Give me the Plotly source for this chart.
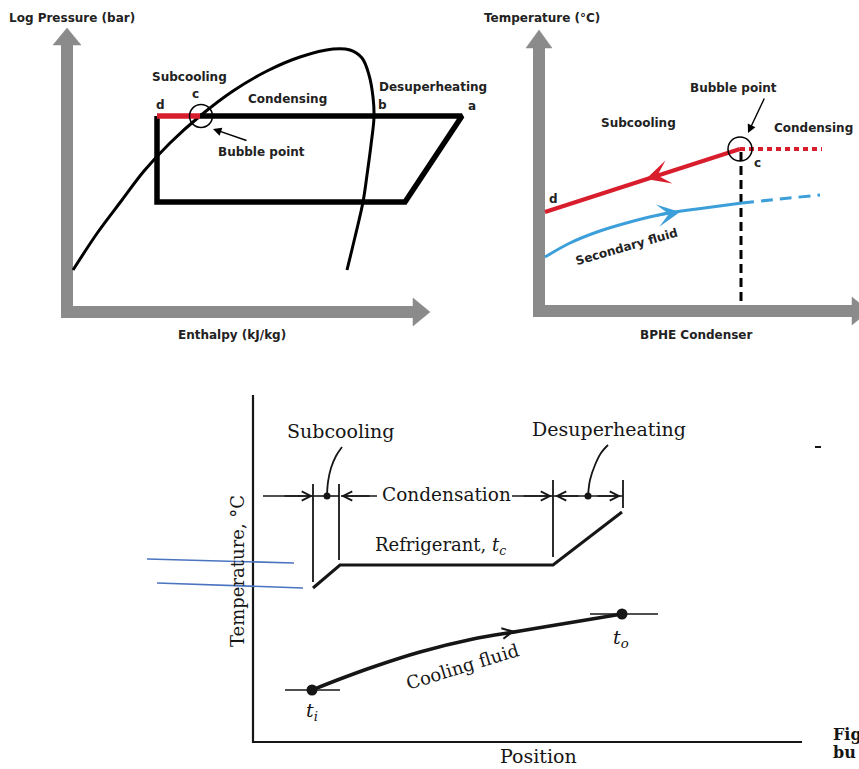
import plotly.graph_objects as go

W, H = 859, 769
GRAY = "#8b8b8b"
RED = "#d81e2c"
BLUE = "#3d9fd9"
INK = "#222222"
SCAN = "#161616"
PEN = "#4a74c0"
SANS = "DejaVu Sans"
SERIF = "DejaVu Serif"

# ---------------- Panel 1: log P - h diagram ----------------
ph_vshaft_x = [67, 67]
ph_vshaft_y = [318, 45]
ph_vhead_x = [53, 81, 67, 53]
ph_vhead_y = [45, 45, 28, 45]
ph_hshaft_x = [61, 413]
ph_hshaft_y = [312, 312]
ph_hhead_x = [413, 413, 430, 413]
ph_hhead_y = [298, 326, 312, 298]

dome_x = [73, 98, 122, 144, 170, 200, 233, 267, 300, 333, 350, 362, 369, 373, 374, 371, 367, 363, 355, 347]
dome_y = [270, 232, 200, 171, 143, 116, 91, 71, 57, 49, 50, 58, 75, 97, 117, 145, 175, 202, 237, 270]

cycle_x = [200, 462, 405, 157, 157]
cycle_y = [116, 116, 202, 202, 116]
subcool_x = [157, 200]
subcool_y = [116, 116]
ph_bubble_x = [201]
ph_bubble_y = [116]

# ---------------- Panel 2: BPHE condenser ----------------
bp_vshaft_x = [539, 539]
bp_vshaft_y = [317, 48]
bp_vhead_x = [526, 552, 539, 526]
bp_vhead_y = [48, 48, 30, 48]
bp_hshaft_x = [533, 852]
bp_hshaft_y = [311, 311]
bp_hhead_x = [852, 852, 869, 852]
bp_hhead_y = [297, 325, 311, 297]

ref_x = [545, 740]
ref_y = [212, 149]
cond_x = [740, 822]
cond_y = [149, 149]
sec_x = [545, 570, 597, 630, 663, 697, 742]
sec_y = [257, 243, 232, 222, 214, 209, 203]
sec_dash_x = [742, 780, 820]
sec_dash_y = [203, 199, 195]
cdrop_x = [741, 741]
cdrop_y = [152, 305]
bp_bubble_x = [740]
bp_bubble_y = [149]

# ---------------- Panel 3: temperature vs position ----------------
t_axis_x = [253, 253, 802]
t_axis_y = [395, 742, 742]
refrig_x = [313, 340, 553, 622]
refrig_y = [588, 565, 565, 512]
ticks = [([313, 313], [484, 582]), ([339, 339], [484, 560]),
         ([553, 553], [480, 557]), ([623, 623], [480, 508])]
dim_segments = [([263, 313], [496, 496]), ([313, 339], [496, 496]),
                ([341, 377], [496, 496]), ([512, 553], [496, 496]),
                ([553, 623], [496, 496])]
sub_leader_x = [327, 328, 331, 336, 342]
sub_leader_y = [496, 482, 468, 456, 447]
desup_leader_x = [588, 590, 595, 601, 608]
desup_leader_y = [496, 480, 465, 453, 445]
dim_dots_x = [327, 588]
dim_dots_y = [496, 496]
cool_x = [312, 340, 373, 420, 473, 520, 580, 622]
cool_y = [690, 679, 667, 652, 639, 631, 621, 614]
ti_tick_x = [285, 340]
ti_tick_y = [690, 690]
to_tick_x = [590, 658]
to_tick_y = [614, 614]
end_dots_x = [312, 622]
end_dots_y = [690, 614]
pen_lines = [([147, 294], [559, 563]), ([157, 303], [583, 588])]
stray_x = [815, 821]
stray_y = [447, 447]

fig = go.Figure()


def line(xs, ys, color, width, dash=None, shape="linear"):
    fig.add_trace(go.Scatter(x=xs, y=ys, mode="lines",
                             line=dict(color=color, width=width, dash=dash, shape=shape),
                             hoverinfo="skip", showlegend=False))


def poly(xs, ys, color):
    fig.add_trace(go.Scatter(x=xs, y=ys, mode="lines", fill="toself", fillcolor=color,
                             line=dict(color=color, width=0.5),
                             hoverinfo="skip", showlegend=False))


def dots(xs, ys, size, color, symbol="circle", lw=0):
    fig.add_trace(go.Scatter(x=xs, y=ys, mode="markers",
                             marker=dict(size=size, color=color, symbol=symbol,
                                         line=dict(color=color, width=lw)),
                             hoverinfo="skip", showlegend=False))


def text(x, y, s, size, family, bold=False, angle=0, anchor="center", color=INK):
    fig.add_annotation(x=x, y=y, xref="x", yref="y", text=s, showarrow=False,
                       font=dict(size=size, family=family, color=color,
                                 weight="bold" if bold else "normal"),
                       textangle=angle, xanchor=anchor, yanchor="middle")


def arrow(x, y, ax, ay, color, width, head, size):
    fig.add_annotation(x=x, y=y, ax=ax, ay=ay, xref="x", yref="y", axref="x", ayref="y",
                       text="", showarrow=True, arrowhead=head, arrowwidth=width,
                       arrowsize=size, arrowcolor=color, standoff=0, startstandoff=0)


# Panel 1
line(ph_vshaft_x, ph_vshaft_y, GRAY, 12)
poly(ph_vhead_x, ph_vhead_y, GRAY)
line(ph_hshaft_x, ph_hshaft_y, GRAY, 12)
poly(ph_hhead_x, ph_hhead_y, GRAY)
line(dome_x, dome_y, "black", 3, shape="spline")
line(cycle_x, cycle_y, "black", 5.5)
line(subcool_x, subcool_y, RED, 5.5)
dots(ph_bubble_x, ph_bubble_y, 23, "black", symbol="circle-open", lw=1.5)
arrow(213, 129, 248, 141, "black", 1.4, 2, 1.2)

text(72, 18, "Log Pressure (bar)", 12, SANS, bold=True)
text(232, 335, "Enthalpy (kJ/kg)", 12, SANS, bold=True)
text(189, 77, "Subcooling", 12, SANS, bold=True)
text(195, 94, "c", 12, SANS, bold=True)
text(160, 105, "d", 12, SANS, bold=True)
text(287, 99, "Condensing", 12, SANS, bold=True)
text(433, 87, "Desuperheating", 12, SANS, bold=True)
text(382, 105, "b", 12, SANS, bold=True)
text(472, 106, "a", 12, SANS, bold=True)
text(261, 152, "Bubble point", 12, SANS, bold=True)

# Panel 2
line(bp_vshaft_x, bp_vshaft_y, GRAY, 12)
poly(bp_vhead_x, bp_vhead_y, GRAY)
line(bp_hshaft_x, bp_hshaft_y, GRAY, 12)
poly(bp_hhead_x, bp_hhead_y, GRAY)
line(cdrop_x, cdrop_y, "black", 3, dash="9px,5px")
line(ref_x, ref_y, RED, 4)
line(cond_x, cond_y, RED, 4, dash="5px,4px")
line(sec_x, sec_y, BLUE, 3, shape="spline")
line(sec_dash_x, sec_dash_y, BLUE, 3, dash="12px,7px", shape="spline")
dots(bp_bubble_x, bp_bubble_y, 24, "black", symbol="circle-open", lw=1.5)
arrow(646, 179, 672, 171, RED, 2, 3, 2.0)
arrow(680, 212, 655, 216, BLUE, 1.8, 3, 2.1)
arrow(748, 133, 765, 97, "black", 1.4, 2, 1.2)

text(542, 18, "Temperature (°C)", 12, SANS, bold=True)
text(696, 335, "BPHE Condenser", 12, SANS, bold=True)
text(638, 123, "Subcooling", 12, SANS, bold=True)
text(733, 88, "Bubble point", 12, SANS, bold=True)
text(813, 128, "Condensing", 12, SANS, bold=True)
text(757, 163, "c", 12, SANS, bold=True)
text(553, 199, "d", 12, SANS, bold=True)
text(626, 247, "Secondary fluid", 12, SANS, bold=True, angle=-16)

# Panel 3
line(t_axis_x, t_axis_y, SCAN, 2.2)
line(refrig_x, refrig_y, SCAN, 3)
for xs, ys in ticks:
    line(xs, ys, SCAN, 1.8)
for xs, ys in dim_segments:
    line(xs, ys, SCAN, 1.6)
line(sub_leader_x, sub_leader_y, SCAN, 1.8, shape="spline")
line(desup_leader_x, desup_leader_y, SCAN, 1.8, shape="spline")
dots(dim_dots_x, dim_dots_y, 7, SCAN)
line(cool_x, cool_y, SCAN, 3.5, shape="spline")
line(ti_tick_x, ti_tick_y, SCAN, 1.6)
line(to_tick_x, to_tick_y, SCAN, 1.6)
dots(end_dots_x, end_dots_y, 11, SCAN)
for xs, ys in pen_lines:
    line(xs, ys, PEN, 1.6)
line(stray_x, stray_y, SCAN, 2)

arrow(313, 496, 283, 496, SCAN, 1.4, 5, 1.3)
arrow(341, 496, 371, 496, SCAN, 1.4, 5, 1.3)
arrow(552, 496, 522, 496, SCAN, 1.4, 5, 1.3)
arrow(555, 496, 580, 496, SCAN, 1.4, 5, 1.3)
arrow(621, 496, 596, 496, SCAN, 1.4, 5, 1.3)
arrow(515, 631, 495, 635, SCAN, 1.6, 5, 1.3)

text(341, 431, "Subcooling", 19, SERIF, color=SCAN)
text(609, 429, "Desuperheating", 19, SERIF, color=SCAN)
text(446, 494, "Condensation", 18.5, SERIF, color=SCAN)
text(440, 546, "Refrigerant, <i>t</i><sub><i>c</i></sub>", 18, SERIF, color=SCAN)
text(462, 666, "Cooling fluid", 18, SERIF, color=SCAN, angle=-17)
text(312, 711, "<i>t</i><sub><i>i</i></sub>", 19, SERIF, color=SCAN)
text(621, 638, "<i>t</i><sub><i>o</i></sub>", 19, SERIF, color=SCAN)
text(237, 571, "Temperature, °C", 18, SERIF, color=SCAN, angle=-90)
text(538, 756, "Position", 19, SERIF, color=SCAN)
text(831, 734, "Fig", 16, SERIF, bold=True, anchor="left", color=SCAN)
text(831, 752, "bu", 16, SERIF, bold=True, anchor="left", color=SCAN)

fig.update_layout(
    width=W, height=H, autosize=False,
    margin=dict(l=0, r=0, t=0, b=0, pad=0),
    paper_bgcolor="white", plot_bgcolor="white",
    xaxis=dict(range=[0, W], visible=False, fixedrange=True),
    yaxis=dict(range=[H, 0], visible=False, fixedrange=True),
    showlegend=False,
)

fig.write_html("out.html",
               config={"displayModeBar": False, "staticPlot": True},
               post_script="document.body.style.margin='0';document.body.style.overflow='hidden';")
